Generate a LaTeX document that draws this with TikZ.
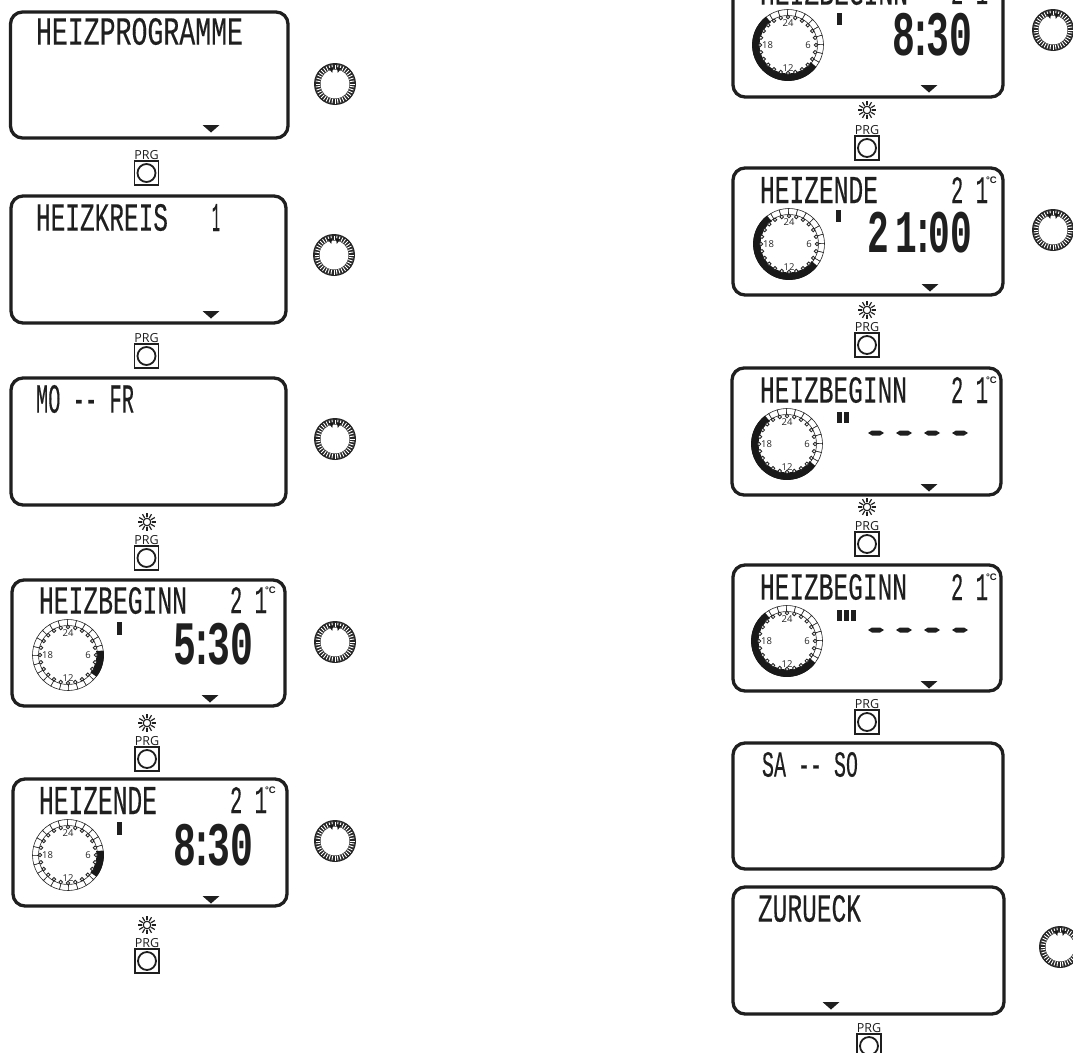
\documentclass[tikz,border=0pt]{standalone}
\usepackage{graphicx}
\usepackage{fontspec}
\setmainfont{Open Sans}
\newfontfamily\segfont[FakeBold=0.35]{Liberation Mono}
\newfontfamily\segbold{Liberation Mono Bold}
\newfontfamily\labfont{Liberation Sans Bold}
\usetikzlibrary{calc}
\tikzset{
  every node/.style={inner sep=0pt,outer sep=0pt},
  lcdframe/.style={draw=black!88,line width=3.3pt,rounded corners=12pt},
  seg/.style={anchor=north west,text=black!88},
  markbar/.style={fill=black!88,draw=none},
  cell/.style={draw=black!85,line width=.6pt,fill=white},
  dot/.style={draw=black!85,line width=.8pt,fill=white},
  onarc/.style={draw=black!90,line width=7.5pt},
  clocknum/.style={font=\fontsize{9.5}{10}\selectfont,text=black!85},
  keysq/.style={draw=black!88,line width=1.8pt,fill=white},
  keylab/.style={font=\fontsize{12.5}{13}\selectfont,anchor=south,text=black!88},
  ray/.style={draw=black!88,line width=1.2pt},
}
% fitted segment-display text
\newcommand{\segtxt}[6]{\node[seg] (#1) at (#2,#3) {\resizebox*{#4pt}{#5pt}{\segfont #6}};}
\newcommand{\segbig}[6]{\node[seg] (#1) at (#2,#3) {\resizebox*{#4pt}{#5pt}{\segbold #6}};}
\newcommand{\tcolon}{\kern-1.5pt:\kern-1.5pt}
% frame: name x0 y0 x1 y1
\newcommand{\lcd}[5]{\draw[lcdframe] (#2,#3) rectangle (#4,#5); \coordinate (#1) at (#2,#3);}
\newcommand{\downmark}[3]{\coordinate (#1) at (#2,#3); \fill[black!88] ($(#1)+(-8.5,0)$) -- ($(#1)+(8.5,0)$) -- ($(#1)+(0,7.5)$) -- cycle;}
% dial: name x y
\newcommand{\knob}[3]{%
  \begin{scope}[shift={(#2,#3)}]
    \coordinate (#1) at (0,0);
    \fill[black!85] (0,0) circle (21);
    \foreach \a in {0,9,...,351}{\draw[white,line width=.9pt] (\a:15) -- (\a:19.5);}
    \fill[white] (0,0) circle (14.5);
    \fill[black!90] (-96:17) -- (-112:17) -- (-104:11.5) -- cycle;
    \fill[black!90] (-68:17) -- (-84:17) -- (-76:11.5) -- cycle;
  \end{scope}}
% key: name x y(top of square)
\newcommand{\prgkey}[3]{%
  \node[keysq,minimum width=24pt,minimum height=24pt] (#1) at (#2,#3+13) {};
  \node[draw=black!88,line width=1.8pt,circle,minimum size=18pt] at (#1) {};
  \node[keylab] (#1l) at ($(#1.north)+(0,-1.5)$) {PRG};}
\newcommand{\sunmark}[3]{%
  \begin{scope}[shift={(#2,#3)}]
    \coordinate (#1) at (0,0);
    \foreach \a in {0,30,...,330}{\draw[ray] (\a:4.8) -- (\a:9);}
    \draw[ray] (0,0) circle (3.8);
  \end{scope}}
% clock: name x y onstart onend
\newcommand{\clockface}[5]{%
  \begin{scope}[shift={(#2,#3)}]
    \coordinate (#1) at (0,0);
    \foreach \h in {0,...,23}{
      \pgfmathsetmacro\aa{15*\h-90-1}
      \pgfmathsetmacro\ab{15*\h-90+14}
      \draw[cell] (\aa:29.5) arc[start angle=\aa,end angle=\ab,radius=29.5] -- (\ab:35.5) arc[start angle=\ab,end angle=\aa,radius=35.5] -- cycle;
    }
    \pgfmathsetmacro\sa{15*#4-90}
    \pgfmathsetmacro\ea{15*#5-90}
    \draw[onarc] (\sa:32.2) arc[start angle=\sa,end angle=\ea,radius=32.2];
    \foreach \h in {0,...,23}{\draw[dot] (15*\h-90:28) circle (1.8);}
    \node[clocknum] at (0,-22) {24};
    \node[clocknum] at (-20.5,0) {18};
    \node[clocknum] at (20,0) {6};
    \node[clocknum] at (0,23) {12};
  \end{scope}}
\newcommand{\dashrow}[2]{\foreach \dx in {0,28,56,84}{\fill[black!88] (#1+\dx,#2-2.5) -- (#1+\dx+8,#2-2.5) -- (#1+\dx+12,#2) -- (#1+\dx+8,#2+2.5) -- (#1+\dx,#2+2.5) -- (#1+\dx-4,#2) -- cycle;}}
\newcommand{\tempmark}[3]{%
  \segtxt{#1t}{#2+191}{#3}{37}{26}{2 1}
  \node[seg,font=\labfont\fontsize{9.5}{10}\selectfont] (#1c) at (#2+226,#3) {°C};}
\begin{document}
\begin{tikzpicture}[x=1pt,y=-1pt]
\clip (0,0) rectangle (1073,1052);
\fill[white] (0,0) rectangle (1073,1052);
% left column
\lcd{a1}{10.5}{12}{288}{138}
\segtxt{a1t}{36}{18}{207}{27}{HEIZPROGRAMME}
\downmark{a1m}{211}{125}
\knob{a1k}{335}{84}
\prgkey{a1p}{146.5}{160}
\lcd{a2}{11}{196}{286}{323}
\segtxt{a2t}{36}{204}{132}{27}{HEIZKREIS}
\segtxt{a2n}{212}{204}{8}{27}{1}
\downmark{a2m}{211}{311}
\knob{a2k}{334}{255}
\prgkey{a2p}{146.5}{343}
\lcd{a3}{11}{378}{286}{505}
\segtxt{a3t}{36}{385}{98}{28}{MO -- FR}
\knob{a3k}{335}{439}
\sunmark{a3s}{147}{522}
\prgkey{a3p}{146.5}{545}
\lcd{a4}{12}{580}{285}{706}
\segtxt{a4t}{39}{587}{148}{27}{HEIZBEGINN}
\tempmark{a4}{39}{587}
\clockface{a4c}{68}{655}{5.5}{8.5}
\fill[markbar] (117,622) rectangle (122,635);
\segbig{a4b}{173}{623}{80}{42}{5\tcolon 30}
\downmark{a4m}{210}{695}
\knob{a4k}{335}{642}
\sunmark{a4s}{147}{723}
\prgkey{a4p}{147}{746}
\lcd{a5}{13}{779}{287}{906}
\segtxt{a5t}{39}{787}{118}{27}{HEIZENDE}
\tempmark{a5}{39}{787}
\clockface{a5c}{68}{855}{5.5}{8.5}
\fill[markbar] (117,822) rectangle (122,835);
\segbig{a5b}{173}{824}{80}{42}{8\tcolon 30}
\downmark{a5m}{211}{896}
\knob{a5k}{335}{841}
\sunmark{a5s}{147}{925}
\prgkey{a5p}{147}{948}
% right column
\lcd{b1}{733}{-31}{1003}{97}
\segtxt{b1t}{760}{-22}{148}{27}{HEIZBEGINN}
\tempmark{b1}{760}{-22}
\clockface{b1c}{788}{45}{8.5}{21.5}
\fill[markbar] (837,13) rectangle (842,25);
\segbig{b1b}{892}{13}{80}{43}{8\tcolon 30}
\downmark{b1m}{929}{85}
\knob{b1k}{1053}{30}
\sunmark{b1s}{867}{110}
\prgkey{b1p}{867}{135}
\lcd{b2}{733}{168}{1003}{295}
\segtxt{b2t}{760}{177}{118}{26}{HEIZENDE}
\tempmark{b2}{760}{177}
\clockface{b2c}{789}{244}{8.5}{21.5}
\fill[markbar] (836,210) rectangle (841,222);
\segbig{b2b}{867}{212}{105}{41}{2\kern2pt 1\tcolon 00}
\downmark{b2m}{930}{284}
\knob{b2k}{1053}{230}
\sunmark{b2s}{867}{310}
\prgkey{b2p}{867}{332}
\lcd{b3}{732}{368}{1001}{495}
\segtxt{b3t}{760}{377}{147}{26}{HEIZBEGINN}
\tempmark{b3}{760}{377}
\clockface{b3c}{787}{444}{8.5}{21.5}
\fill[markbar] (837,412) rectangle (842,423);
\fill[markbar] (844,412) rectangle (849,423);
\dashrow{872}{433}
\downmark{b3m}{929}{484}
\sunmark{b3s}{867}{507}
\prgkey{b3p}{867}{531}
\lcd{b4}{733}{565}{1001}{691}
\segtxt{b4t}{760}{574}{147}{26}{HEIZBEGINN}
\tempmark{b4}{760}{574}
\clockface{b4c}{787}{641}{8.5}{21.5}
\fill[markbar] (837,610) rectangle (842,621);
\fill[markbar] (844,610) rectangle (849,621);
\fill[markbar] (851,610) rectangle (856,621);
\dashrow{872}{630}
\downmark{b4m}{929}{681}
\prgkey{b4p}{867}{709}
\lcd{b5}{733}{743}{1003}{869}
\segtxt{b5t}{762}{752}{96}{25}{SA -- SO}
\lcd{b6}{733}{887}{1004}{1014}
\segtxt{b6t}{758}{895}{103}{27}{ZURUECK}
\downmark{b6m}{831}{1002}
\knob{b6k}{1060}{947}
\prgkey{b6p}{869}{1033}
\end{tikzpicture}
\end{document}
